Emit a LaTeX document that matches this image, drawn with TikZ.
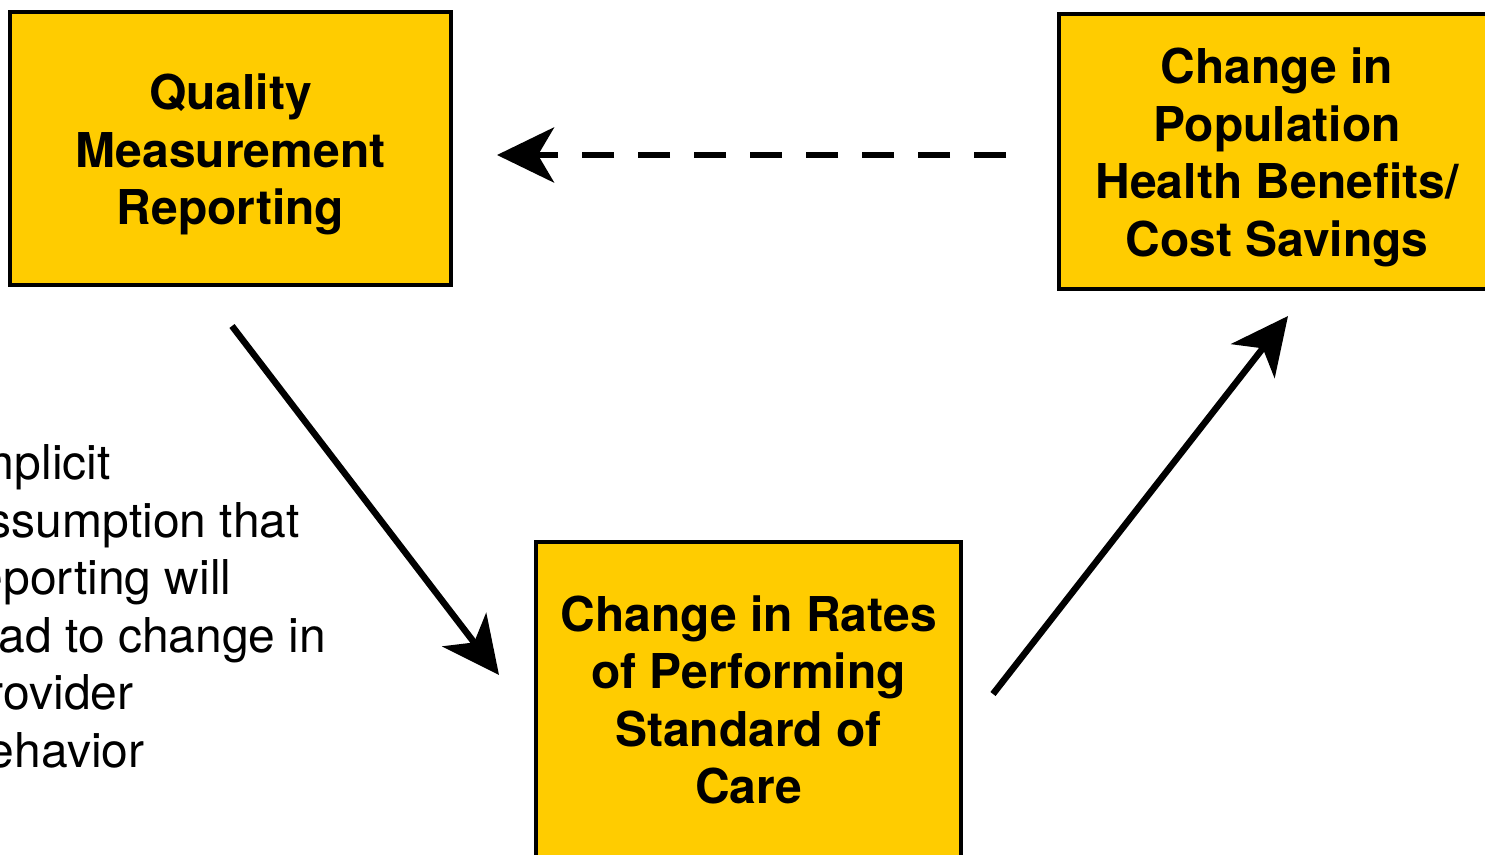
\documentclass[tikz,border=0pt]{standalone}
\usepackage{fontspec}
\setmainfont{TeX Gyre Heros}
\usetikzlibrary{arrows.meta}
\definecolor{boxyellow}{RGB}{255,204,0}
\begin{document}
\begin{tikzpicture}[x=1pt,y=-1pt,
  stagebox/.style={draw=black, line width=3.5pt, fill=boxyellow, inner sep=0pt},
  stagetext/.style={inner sep=0pt, align=center, font=\fontsize{48}{57.5}\selectfont\bfseries},
  note/.style={inner sep=0pt, align=left, font=\fontsize{48}{57.5}\selectfont},
  flow/.style={line width=6.5pt, -{Stealth[length=57pt,width=55pt,inset=16pt]}},
]
\useasboundingbox (0,0) rectangle (1485,854);
\clip (0,0) rectangle (1485,854);

% the three stages of the cycle
\node[stagebox, minimum width=441pt, minimum height=273pt] (qmr) at (230.5,148.5) {};
\node[stagetext, yshift=-6pt] (qmrtext) at (qmr.center)
  {Quality\\Measurement\\Reporting};
\node[stagebox, minimum width=436pt, minimum height=275pt] (pop) at (1277,151.5) {};
\node[stagetext, yshift=-6pt] (poptext) at (pop.center)
  {Change in\\Population\\Health Benefits/\\Cost Savings};
\node[stagebox, minimum width=425pt, minimum height=322pt] (soc) at (748.5,703) {};
\node[stagetext, yshift=3pt] (soctext) at (soc.center)
  {Change in Rates\\of Performing\\Standard of\\Care};

% side note on the first link (anchored at the baseline of its last line)
\node[note, anchor=base west] (assume) at (-39,767)
  {Implicit\\assumption that\\reporting will\\lead to change in\\provider\\behavior};

% connector end points
\coordinate (a1) at (232,326);
\coordinate (a2) at (499,675);
\coordinate (b1) at (993,694);
\coordinate (b2) at (1288,316);
\coordinate (c1) at (1006,155);
\coordinate (c2) at (497,155);

\draw[flow] (a1) -- (a2);
\draw[flow] (b1) -- (b2);
\draw[flow, dash pattern=on 32pt off 24pt] (c1) -- (c2);
\end{tikzpicture}
\end{document}
